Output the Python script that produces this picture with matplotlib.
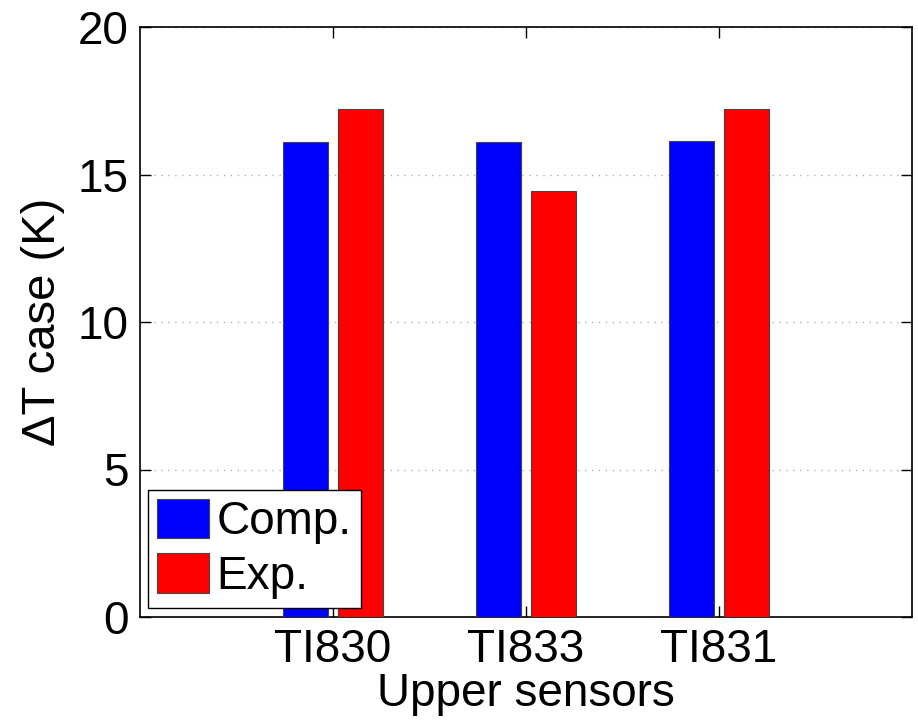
import matplotlib
matplotlib.use("Agg")
import matplotlib.pyplot as plt
import numpy as np

sensors = ["TI830", "TI833", "TI831"]
comp = [16.10, 16.11, 16.14]
exp = [17.21, 14.43, 17.23]
yticks = [0, 5, 10, 15, 20]

plt.rcParams['font.family'] = ['Liberation Sans', 'DejaVu Sans']

fig = plt.figure(figsize=(9.18, 7.21), dpi=100)
ax = fig.add_axes([140/918, 1-617/721, (912-140)/918, (617-27)/721])

x = np.arange(1, len(sensors)+1)
w = 0.236
off = 0.143
ax.bar(x - off, comp, w, color='#0000FF', edgecolor='#444444', linewidth=0.8, label='Comp.', zorder=3)
ax.bar(x + off, exp, w, color='#FF0000', edgecolor='#444444', linewidth=0.8, label='Exp.', zorder=3)

ax.set_xlim(0, 4)
ax.set_ylim(0, 20)
ax.set_xticks(x)
ax.set_xticklabels(sensors)
ax.set_yticks(yticks)
ax.tick_params(axis='both', direction='in', length=8, width=1, labelsize=33,
               top=True, right=True, pad=8)
ax.yaxis.grid(True, linestyle=(0, (1, 4)), color='#b0b0b0', linewidth=1, zorder=0)
ax.set_axisbelow(True)
for s in ax.spines.values():
    s.set_linewidth(1.2)
    s.set_color('black')

ax.set_xlabel('Upper sensors', fontsize=33, labelpad=0)
ax.set_ylabel('ΔT case (K)', fontsize=34, labelpad=9)

leg = ax.legend(loc='lower left', bbox_to_anchor=(8/772, 9/590), borderaxespad=0,
                fontsize=33, fancybox=False, edgecolor='black', framealpha=1,
                handlelength=1.13, handleheight=0.94, handletextpad=0.17,
                borderpad=0.2, labelspacing=0.2)
leg.get_frame().set_linewidth(1.0)

fig.savefig('out.png', dpi=100)
